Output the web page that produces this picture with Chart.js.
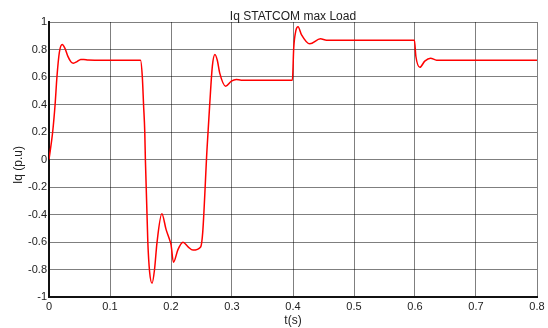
<!DOCTYPE html>
<html>
<head>
<meta charset="utf-8">
<script src="https://cdn.jsdelivr.net/npm/chart.js@4.4.0/dist/chart.umd.min.js"></script>
<style>
  html, body { margin: 0; padding: 0; background: #fff; }
  #wrap { width: 548px; height: 328px; position: relative; }
</style>
</head>
<body>
<div id="wrap"><canvas id="iqChart"></canvas></div>
<script>
// 数据
const tVals = [0, 0.006, 0.010, 0.013, 0.017, 0.0217, 0.026, 0.031, 0.036, 0.040, 0.046, 0.052, 0.057, 0.064, 0.075,
    0.150, 0.153, 0.155, 0.157, 0.158, 0.162, 0.165, 0.169, 0.173, 0.177, 0.185, 0.192, 0.198, 0.200, 0.204,
    0.2114, 0.2196, 0.228, 0.236, 0.2486, 0.252, 0.259, 0.2633, 0.2678, 0.272, 0.276, 0.2798, 0.2896, 0.299, 0.307, 0.315,
    0.399, 0.4012, 0.4045, 0.4083, 0.4138, 0.4275, 0.445, 0.455, 0.465,
    0.599, 0.6014, 0.608, 0.616, 0.6255, 0.6354, 0.645, 0.8];
const iqVals = [0, 0.2, 0.4, 0.6, 0.78, 0.836, 0.81, 0.75, 0.71, 0.70, 0.712, 0.727, 0.728, 0.723, 0.722,
    0.722, 0.60, 0.40, 0.2, 0.0, -0.6, -0.82, -0.9, -0.8, -0.606, -0.395, -0.51, -0.587, -0.618, -0.747,
    -0.655, -0.601, -0.635, -0.659, -0.636, -0.53, 0.073, 0.388, 0.679, 0.764, 0.72, 0.63, 0.533, 0.57, 0.582, 0.577,
    0.577, 0.812, 0.933, 0.965, 0.909, 0.841, 0.878, 0.868, 0.868,
    0.868, 0.751, 0.671, 0.715, 0.737, 0.722, 0.722, 0.722];
const xTicks = [0, 0.1, 0.2, 0.3, 0.4, 0.5, 0.6, 0.7, 0.8];
const yTicks = [-1, -0.8, -0.6, -0.4, -0.2, 0, 0.2, 0.4, 0.6, 0.8, 1];

const titleText = 'Iq STATCOM max Load';
const xLabel = 't(s)';
const yLabel = 'Iq (p.u)';

Chart.defaults.font.family = '"Liberation Sans", Arial, sans-serif';
Chart.defaults.color = '#222';

// 标题和轴标签
const labelsPlugin = {
    id: 'labels',
    afterDraw(chart) {
        const { ctx, chartArea: a } = chart;
        const cx = (a.left + a.right) / 2;
        ctx.save();
        ctx.fillStyle = '#222';
        ctx.font = '12px "Liberation Sans", Arial, sans-serif';
        ctx.textAlign = 'center';
        ctx.textBaseline = 'alphabetic';
        ctx.fillText(titleText, cx, 20);
        ctx.fillText(xLabel, cx, 324);
        ctx.translate(22, 165);
        ctx.rotate(-Math.PI / 2);
        ctx.fillText(yLabel, 0, 0);
        ctx.restore();
    }
};

const fmt = v => String(+v.toFixed(1));

new Chart(document.getElementById('iqChart'), {
    type: 'line',
    data: {
        datasets: [{
            data: tVals.map((t, i) => ({ x: t, y: iqVals[i] })),
            borderColor: '#ff0000',
            borderWidth: 1.5,
            pointRadius: 0,
            cubicInterpolationMode: 'monotone',
            fill: false
        }]
    },
    options: {
        responsive: true,
        maintainAspectRatio: false,
        animation: false,
        layout: { padding: { left: 0, top: 22, right: 11, bottom: 0 } },
        plugins: { legend: { display: false }, tooltip: { enabled: false } },
        scales: {
            x: {
                type: 'linear', min: 0, max: 0.8,
                afterFit: s => { s.height = 31; },
                afterBuildTicks: s => { s.ticks = xTicks.map(v => ({ value: v })); },
                ticks: { callback: fmt, padding: 3, maxRotation: 0, font: { size: 11 }, color: '#222' },
                grid: { color: 'rgba(0,0,0,0.5)', lineWidth: 1, drawTicks: false },
                border: { color: '#111', width: 2 }
            },
            y: {
                type: 'linear', min: -1, max: 1,
                afterFit: s => { s.width = 49; },
                afterBuildTicks: s => { s.ticks = yTicks.map(v => ({ value: v })); },
                ticks: { callback: fmt, padding: 2, font: { size: 11 }, color: '#222' },
                grid: { color: 'rgba(0,0,0,0.5)', lineWidth: 1, drawTicks: false },
                border: { color: '#111', width: 2 }
            }
        }
    },
    plugins: [labelsPlugin]
});
</script>
</body>
</html>
